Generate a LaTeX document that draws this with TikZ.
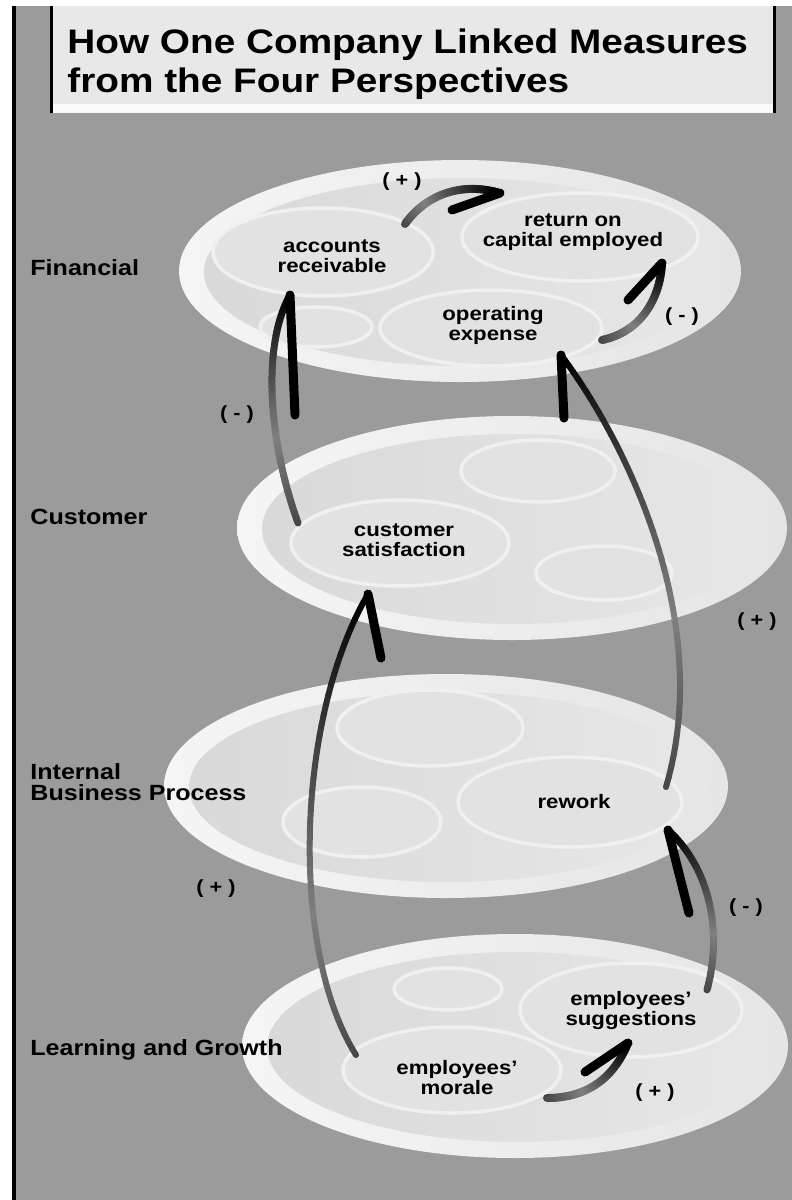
\documentclass[tikz,border=0pt]{standalone}
\usepackage{fontspec}
\setmainfont{Liberation Sans}[FakeStretch=1.14]
\usetikzlibrary{shapes.geometric}

\definecolor{bggray}{RGB}{155,155,155}
\definecolor{titlefill}{RGB}{232,232,232}
\definecolor{rimlight}{RGB}{245,245,245}
\definecolor{rimdark}{RGB}{229,229,229}
\definecolor{coreleft}{RGB}{217,217,217}
\definecolor{coreright}{RGB}{231,231,231}
\definecolor{cellfill}{RGB}{226,226,226}
\definecolor{cellring}{RGB}{240,240,240}

\tikzset{
  outerdisc/.style={ellipse, inner sep=0pt, left color=rimlight, right color=rimdark},
  innerdisc/.style={ellipse, inner sep=0pt, left color=coreleft, right color=coreright},
  cell/.style={ellipse, inner sep=0pt, fill=cellfill, draw=cellring, line width=1.75pt},
  celltext/.style={font=\fontsize{9.75}{10}\selectfont\bfseries, align=center, inner sep=0pt},
  perspective/.style={font=\fontsize{11}{10.5}\selectfont\bfseries, anchor=west, align=left, inner sep=0pt},
  sign/.style={font=\fontsize{9.5}{10}\selectfont\bfseries, inner sep=0pt},
  titleline/.style={font=\fontsize{17}{20}\selectfont\bfseries, anchor=base west, inner sep=0pt},
}

% brush-style arrow: shaded shaft along a cubic curve, black barb at the tip
% #1 start, #2 first control, #3 second control, #4 tip, #5 barb end, #6 shaft width, #7 barb width
\newcommand\brusharrow[7]{%
  \foreach \k [evaluate=\k as \ta using \k/48,
               evaluate=\k as \tb using (\k+1)/48,
               evaluate=\k as \sh using (\k<16 ? 72-\k*22/16 : 50+(\k-16)*50/31)] in {0,...,47}{%
    \path #1 .. controls #2 and #3 .. #4 coordinate[pos=\ta] (bA) coordinate[pos=\tb] (bB);
    \draw[line width=#6, line cap=round, draw=black!\sh] (bA) -- (bB);
  }
  \draw[line width=#7, line cap=round, black] #4 -- #5;
}

\begin{document}
\begin{tikzpicture}[x=0.5pt, y=-0.5pt]
\useasboundingbox (0,0) rectangle (792,1200);

% page ground and left rule
\fill[white] (0,0) rectangle (792,1200);
\fill[bggray] (16,6) rectangle (792,1200);
\fill[black] (12,6) rectangle (16,1200);

% title panel
\fill[titlefill] (53,6) rectangle (773,104);
\fill[white!98!black] (53,104) rectangle (773,113);
\fill[black] (50,6) rectangle (53,113);
\fill[black] (773,6) rectangle (776,113);
\node[titleline] (title1) at (67,53) {How One Company Linked Measures};
\node[titleline] (title2) at (67,92) {from the Four Perspectives};

% ---------- Financial ----------
\node[outerdisc, minimum width=281pt, minimum height=111pt] (finDisc) at (460,271) {};
\node[innerdisc, minimum width=258pt, minimum height=94pt] (finCore) at (462,272) {};
\node[cell, minimum width=110pt, minimum height=44pt] (cAR) at (323,252) {};
\node[cell, minimum width=118pt, minimum height=44pt] (cRO) at (580,237) {};
\node[cell, minimum width=111pt, minimum height=38pt] (cOE) at (491,328) {};
\node[cell, minimum width=56pt, minimum height=20pt] (cF4) at (316,327) {};

% ---------- Customer ----------
\node[outerdisc, minimum width=275pt, minimum height=112pt] (cusDisc) at (512,528) {};
\node[innerdisc, minimum width=252pt, minimum height=95pt] (cusCore) at (514,529) {};
\node[cell, minimum width=109pt, minimum height=43pt] (cCS) at (400,543) {};
\node[cell, minimum width=77pt, minimum height=31pt] (cC2) at (538,471) {};
\node[cell, minimum width=68pt, minimum height=27pt] (cC3) at (604,573) {};

% ---------- Internal Business Process ----------
\node[outerdisc, minimum width=282pt, minimum height=112pt] (ibpDisc) at (446,786) {};
\node[innerdisc, minimum width=259pt, minimum height=95pt] (ibpCore) at (448,787) {};
\node[cell, minimum width=93pt, minimum height=38pt] (cI1) at (430,728) {};
\node[cell, minimum width=79pt, minimum height=35pt] (cI2) at (362,822) {};
\node[cell, minimum width=112pt, minimum height=45pt] (cRW) at (570,802) {};

% ---------- Learning and Growth ----------
\node[outerdisc, minimum width=273pt, minimum height=112pt] (lgDisc) at (515,1046) {};
\node[innerdisc, minimum width=250pt, minimum height=95pt] (lgCore) at (517,1047) {};
\node[cell, minimum width=54pt, minimum height=21pt] (cL1) at (448,989) {};
\node[cell, minimum width=111pt, minimum height=47pt] (cSG) at (631,1010) {};
\node[cell, minimum width=109pt, minimum height=43pt] (cMO) at (452,1070) {};

% arrow end points
\coordinate (arOut) at (405,224);  \coordinate (roIn) at (500,193);  \coordinate (roBarb) at (452,210);
\coordinate (oeOut) at (602,340);  \coordinate (roIn2) at (662,263); \coordinate (roBarb2) at (628,300);
\coordinate (csOut) at (298,523);  \coordinate (arIn) at (290,295);  \coordinate (arBarb) at (295,415);
\coordinate (rwOut) at (666,787);  \coordinate (oeIn) at (561,355);  \coordinate (oeBarb) at (564,418);
\coordinate (moOut) at (356,1055); \coordinate (csIn) at (368,594);  \coordinate (csBarb) at (381,658);
\coordinate (sgOut) at (707,990);  \coordinate (rwIn) at (668,830);  \coordinate (rwBarb) at (689,913);
\coordinate (moOut2) at (547,1098);\coordinate (sgIn) at (628,1043); \coordinate (sgBarb) at (585,1072);

% cause-and-effect links
\brusharrow{(arOut)}{(422,200)}{(455,180)}{(roIn)}{(roBarb)}{4pt}{4.5pt}
\brusharrow{(oeOut)}{(640,332)}{(660,300)}{(roIn2)}{(roBarb2)}{4pt}{4.5pt}
\brusharrow{(csOut)}{(268,440)}{(262,345)}{(arIn)}{(arBarb)}{3.5pt}{4.5pt}
\brusharrow{(rwOut)}{(715,620)}{(625,440)}{(oeIn)}{(oeBarb)}{3pt}{4.5pt}
\brusharrow{(moOut)}{(290,950)}{(295,720)}{(csIn)}{(csBarb)}{3pt}{4.5pt}
\brusharrow{(sgOut)}{(722,935)}{(712,870)}{(rwIn)}{(rwBarb)}{3.5pt}{4.5pt}
\brusharrow{(moOut2)}{(590,1098)}{(615,1075)}{(sgIn)}{(sgBarb)}{4pt}{4.5pt}

% measure names
\node[celltext] (tAR) at (332,256) {accounts\\receivable};
\node[celltext] (tRO) at (573,232) {return on\\capital employed};
\node[celltext] (tOE) at (493,325) {operating\\expense};
\node[celltext] (tCS) at (404,540) {customer\\satisfaction};
\node[celltext] (tRW) at (574,802) {rework};
\node[celltext] (tSG) at (631,1010) {employees’\\suggestions};
\node[celltext] (tMO) at (457,1078) {employees’\\morale};

% link signs
\node[sign] (sAR) at (402,182) {( + )};
\node[sign] (sOE) at (682,317) {( - )};
\node[sign] (sCS) at (237,415) {( - )};
\node[sign] (sRW) at (757,622) {( + )};
\node[sign] (sMC) at (216,889) {( + )};
\node[sign] (sSG) at (746,908) {( - )};
\node[sign] (sMS) at (655,1093) {( + )};

% perspective names
\node[perspective] (lFin) at (30,268) {Financial};
\node[perspective] (lCus) at (30,517) {Customer};
\node[perspective] (lIBP) at (30,782) {Internal\\Business Process};
\node[perspective] (lLG) at (30,1050) {Learning and Growth};
\end{tikzpicture}
\end{document}
